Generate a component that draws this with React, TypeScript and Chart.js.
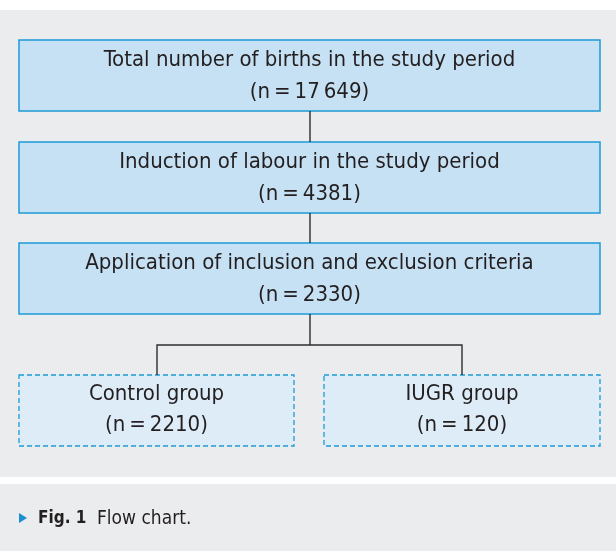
import React, { useEffect, useRef } from "react";
import { Chart, registerables } from "chart.js";

Chart.register(...registerables);

// ---- data ----
const stepLabels = [
  "Total number of births in the study period",
  "Induction of labour in the study period",
  "Application of inclusion and exclusion criteria",
];
const stepCounts = [17649, 4381, 2330];
const groupLabels = ["Control group", "IUGR group"];
const groupCounts = [2210, 120];
const captionBold = "Fig. 1";
const captionText = "Flow chart.";

// ---- layout (canvas units) ----
const W = 616;
const H = 551;
const FONT = "'Liberation Sans Narrow', 'DejaVu Sans Condensed', sans-serif";
const stepX0 = 19, stepX1 = 600;
const stepTops = [40, 142, 243];
const stepH = 71;
const groupBoxes = [
  { x0: 19, x1: 294 },
  { x0: 324, x1: 600 },
];
const groupTop = 375, groupH = 71;
const splitY = 345;
const centerX = 310;
const groupCenters = [157, 462];

const fmt = (n: number) => {
  const s = String(n);
  if (n >= 10000) return s.slice(0, s.length - 3) + "\u2009" + s.slice(-3);
  return s;
};
const nText = (n: number) => "(n\u2009=\u2009" + fmt(n) + ")";

// connector line datasets
const lineColor = "#2e2e2e";
const connectors: { x: number; y: number }[][] = [];
for (let i = 0; i < stepTops.length - 1; i++) {
  connectors.push([
    { x: centerX, y: stepTops[i] + stepH },
    { x: centerX, y: stepTops[i + 1] },
  ]);
}
connectors.push([
  { x: centerX, y: stepTops[stepTops.length - 1] + stepH },
  { x: centerX, y: splitY },
]);
connectors.push([
  { x: groupCenters[0], y: groupTop },
  { x: groupCenters[0], y: splitY },
  { x: groupCenters[1], y: splitY },
  { x: groupCenters[1], y: groupTop },
]);

const flowPlugin = {
  id: "flow",
  beforeDraw(chart: any) {
    const { ctx, scales } = chart;
    const sx = (v: number) => scales.x.getPixelForValue(v);
    const sy = (v: number) => scales.y.getPixelForValue(v);
    ctx.save();
    ctx.fillStyle = "#ffffff";
    ctx.fillRect(0, 0, W, H);
    ctx.fillStyle = "#ebeced";
    ctx.fillRect(sx(0), sy(10), sx(W) - sx(0), sy(477) - sy(10));
    ctx.fillRect(sx(0), sy(484), sx(W) - sx(0), sy(H) - sy(484));

    // step boxes
    stepTops.forEach((t) => {
      const x = sx(stepX0), y = sy(t), w = sx(stepX1) - sx(stepX0), h = sy(t + stepH) - sy(t);
      ctx.fillStyle = "#c6e1f4";
      ctx.fillRect(x, y, w, h);
      ctx.strokeStyle = "#1b9bd7";
      ctx.lineWidth = 1.5;
      ctx.strokeRect(x, y, w, h);
    });
    // group boxes (dashed)
    groupBoxes.forEach((b) => {
      const x = sx(b.x0), y = sy(groupTop), w = sx(b.x1) - sx(b.x0), h = sy(groupTop + groupH) - sy(groupTop);
      ctx.fillStyle = "#deecf8";
      ctx.fillRect(x, y, w, h);
      ctx.strokeStyle = "#1b9bd7";
      ctx.lineWidth = 1.3;
      ctx.setLineDash([5, 3]);
      ctx.strokeRect(x, y, w, h);
      ctx.setLineDash([]);
    });
    ctx.restore();
  },
  afterDatasetsDraw(chart: any) {
    const { ctx, scales } = chart;
    const sx = (v: number) => scales.x.getPixelForValue(v);
    const sy = (v: number) => scales.y.getPixelForValue(v);
    ctx.save();
    ctx.fillStyle = "#231f20";
    ctx.textAlign = "center";
    ctx.textBaseline = "middle";
    ctx.font = `22px ${FONT}`;
    stepLabels.forEach((lab, i) => {
      const cx = sx((stepX0 + stepX1) / 2);
      ctx.fillText(lab, cx, sy(stepTops[i] + 20));
      ctx.fillText(nText(stepCounts[i]), cx, sy(stepTops[i] + 52));
    });
    groupLabels.forEach((lab, i) => {
      const b = groupBoxes[i];
      const cx = sx((b.x0 + b.x1) / 2);
      ctx.fillText(lab, cx, sy(groupTop + 19));
      ctx.fillText(nText(groupCounts[i]), cx, sy(groupTop + 50));
    });
    // caption
    const cy = sy(518);
    ctx.fillStyle = "#1b8fd2";
    ctx.beginPath();
    ctx.moveTo(sx(19), cy - 5);
    ctx.lineTo(sx(27), cy);
    ctx.lineTo(sx(19), cy + 5);
    ctx.closePath();
    ctx.fill();
    ctx.fillStyle = "#231f20";
    ctx.textAlign = "left";
    ctx.font = `bold 17px ${FONT}`;
    ctx.fillText(captionBold, sx(38), cy + 1);
    ctx.font = `19px ${FONT}`;
    ctx.fillText(captionText, sx(97), cy + 1);
    ctx.restore();
  },
};

export default function App() {
  const ref = useRef<HTMLCanvasElement>(null);
  useEffect(() => {
    document.body.style.margin = "0";
    const chart = new Chart(ref.current!, {
      type: "scatter",
      data: {
        datasets: connectors.map((pts) => ({
          data: pts,
          showLine: true,
          borderColor: lineColor,
          borderWidth: 1.4,
          pointRadius: 0,
          fill: false,
          tension: 0,
        })),
      },
      options: {
        animation: false,
        responsive: false,
        devicePixelRatio: 1,
        layout: { padding: 0 },
        events: [],
        plugins: { legend: { display: false }, tooltip: { enabled: false } },
        scales: {
          x: { type: "linear", min: 0, max: W, display: false },
          y: { type: "linear", min: 0, max: H, reverse: true, display: false },
        },
      },
      plugins: [flowPlugin],
    });
    return () => chart.destroy();
  }, []);
  return (
    <div style={{ position: "absolute", left: 0, top: 0, width: W, height: H }}>
      <canvas ref={ref} width={W} height={H} style={{ width: W, height: H, display: "block" }} />
    </div>
  );
}
